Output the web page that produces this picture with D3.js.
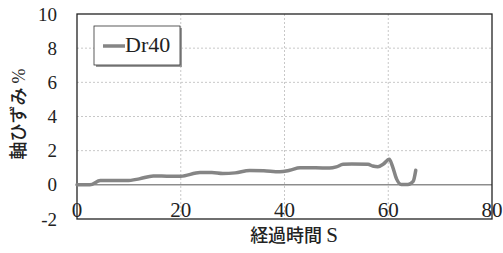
<!DOCTYPE html>
<html>
<head>
<meta charset="utf-8">
<script src="https://cdn.jsdelivr.net/npm/d3@7"></script>
<style>
    body { margin: 0; background: #fff; }
    svg { display: block; }
</style>
</head>
<body>
<svg id="chart"></svg>
<script>
// elapsed time (s) and axial strain (%)
const timeS = [0, 2.5, 4.5, 7, 9.6, 12, 14.7, 18, 20, 23.7, 26, 28.1, 30.5, 33.3, 36, 39.1, 41, 43, 46, 48.7,
    50, 51.3, 53, 56.1, 57, 58, 59, 60.2, 60.8, 61.6, 62.5, 63.8, 64.8, 65.3];
const strainDr40 = [0, 0, 0.25, 0.25, 0.25, 0.35, 0.52, 0.5, 0.5, 0.72, 0.72, 0.66, 0.7, 0.84, 0.82, 0.76, 0.85, 1.0, 1.0, 0.98,
    1.05, 1.2, 1.22, 1.2, 1.1, 1.06, 1.2, 1.5, 1.1, 0.35, 0.02, 0.02, 0.2, 0.85];
const xTicks = [0, 20, 40, 60, 80];
const yTicks = [-2, 0, 2, 4, 6, 8, 10];
const seriesName = 'Dr40';

const width = 503, height = 253;
const margin = {left: 77, right: 11, top: 14, bottom: 34};

const svg = d3.select('#chart').attr('width', width).attr('height', height);

const x = d3.scaleLinear().domain([0, 80]).range([margin.left, width - margin.right]);
const y = d3.scaleLinear().domain([-2, 10]).range([height - margin.bottom, margin.top]);

// dotted gridlines
svg.append('g')
    .selectAll('line')
    .data(yTicks.filter(v => v > 0 && v < 10))
    .join('line')
    .attr('x1', x(0)).attr('x2', x(80))
    .attr('y1', d => y(d)).attr('y2', d => y(d))
    .attr('stroke', '#c8c8c8').attr('stroke-dasharray', '2,2');

svg.append('g')
    .selectAll('line')
    .data(xTicks.filter(v => v > 0 && v < 80))
    .join('line')
    .attr('x1', d => x(d)).attr('x2', d => x(d))
    .attr('y1', y(10)).attr('y2', y(-2))
    .attr('stroke', '#c8c8c8').attr('stroke-dasharray', '2,2');

// zero line
svg.append('line')
    .attr('x1', x(0)).attr('x2', x(80))
    .attr('y1', y(0)).attr('y2', y(0))
    .attr('stroke', '#555').attr('stroke-width', 1);

// plot frame
svg.append('rect')
    .attr('x', x(0)).attr('y', y(10))
    .attr('width', x(80) - x(0)).attr('height', y(-2) - y(10))
    .attr('fill', 'none').attr('stroke', '#222').attr('stroke-width', 1.3);

// y tick labels
svg.append('g')
    .selectAll('text')
    .data(yTicks)
    .join('text')
    .attr('font-family', 'Liberation Serif')
    .attr('font-size', 19)
    .attr('fill', '#222')
    .attr('x', 57).attr('y', d => y(d))
    .attr('dy', '0.35em')
    .attr('text-anchor', 'end')
    .text(d => d);

// x tick labels
svg.append('g')
    .selectAll('text')
    .data(xTicks)
    .join('text')
    .attr('font-family', 'Liberation Serif')
    .attr('font-size', 21)
    .attr('fill', '#222')
    .attr('x', d => x(d)).attr('y', 217)
    .attr('text-anchor', 'middle')
    .text(d => d);

// data line
const line = d3.line()
    .x((d, i) => x(timeS[i]))
    .y(d => y(d))
    .curve(d3.curveMonotoneX);

svg.append('path')
    .datum(strainDr40)
    .attr('d', line)
    .attr('fill', 'none')
    .attr('stroke', '#858585')
    .attr('stroke-width', 3.5)
    .attr('stroke-linejoin', 'round')
    .attr('stroke-linecap', 'round');

// legend box with shadow
const lg = svg.append('g').attr('transform', 'translate(94,26)');
lg.append('rect')
    .attr('x', 2).attr('y', 2).attr('width', 86).attr('height', 39)
    .attr('fill', '#999');
lg.append('rect')
    .attr('width', 86).attr('height', 39)
    .attr('fill', '#fff').attr('stroke', '#333').attr('stroke-width', 0.8);
lg.append('line')
    .attr('x1', 9).attr('x2', 31).attr('y1', 20).attr('y2', 20)
    .attr('stroke', '#858585').attr('stroke-width', 3.5);
lg.append('text')
    .attr('font-family', 'Liberation Serif')
    .attr('font-size', 22)
    .attr('fill', '#222')
    .attr('x', 31).attr('y', 26)
    .text(seriesName);

// axis titles
const xt = svg.append('text')
    .attr('font-family', 'Noto Sans CJK JP')
    .attr('font-weight', 500)
    .attr('font-size', 18)
    .attr('fill', '#222')
    .attr('x', 294).attr('y', 242)
    .attr('text-anchor', 'middle');
xt.append('tspan').text('経過時間 ');
xt.append('tspan')
    .attr('font-family', 'Liberation Serif')
    .attr('font-weight', 400)
    .attr('font-size', 21)
    .text('S');

const yt = svg.append('text')
    .attr('font-family', 'Noto Sans CJK JP')
    .attr('font-weight', 500)
    .attr('font-size', 18)
    .attr('fill', '#222')
    .attr('transform', 'translate(25,114) rotate(-90)')
    .attr('text-anchor', 'middle');
yt.append('tspan').text('軸ひずみ ');
yt.append('tspan')
    .attr('font-family', 'Liberation Serif')
    .attr('font-weight', 400)
    .text('%');
</script>
</body>
</html>
